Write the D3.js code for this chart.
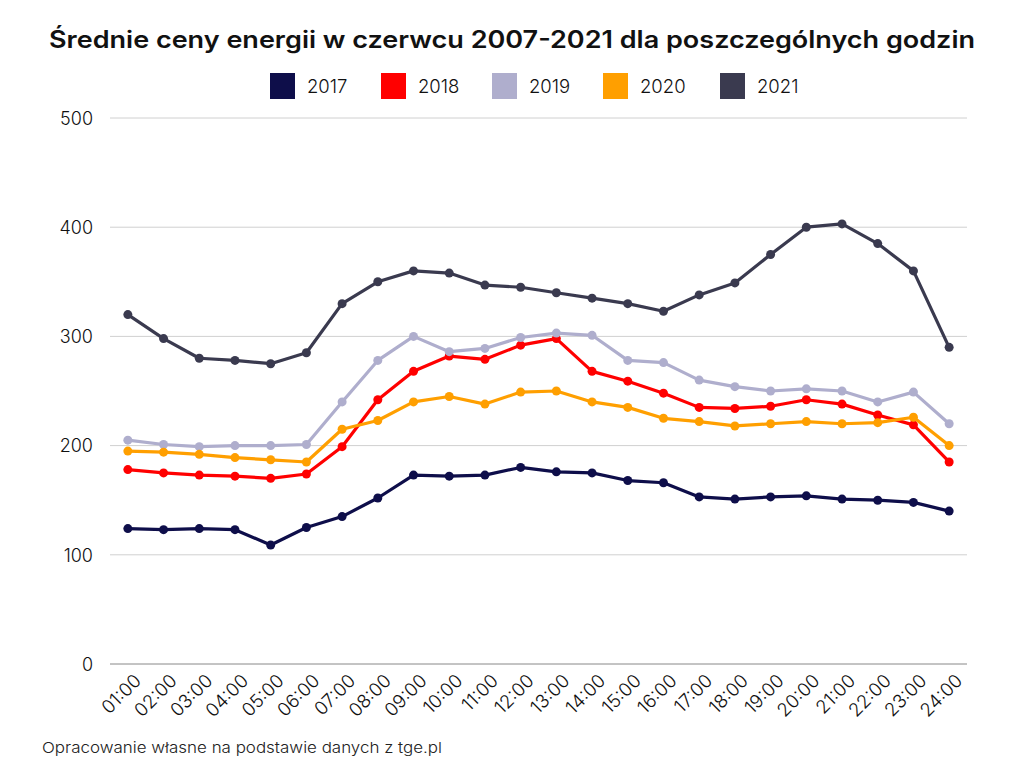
<!DOCTYPE html>
<html><head><meta charset="utf-8">
<script src="https://cdn.jsdelivr.net/npm/d3@7"></script>
<style>body{margin:0;background:#fff}svg{display:block}</style>
</head><body>
<svg id="c" width="1024" height="768"></svg>
<script>
const hours = ["01:00","02:00","03:00","04:00","05:00","06:00","07:00","08:00","09:00","10:00","11:00","12:00","13:00","14:00","15:00","16:00","17:00","18:00","19:00","20:00","21:00","22:00","23:00","24:00"];
const years = ["2017","2018","2019","2020","2021"];
const colors = ["#0e0e4a","#ff0000","#afaecd","#ff9f00","#3a3a4f"];
const v2017 = [124,123,124,123,109,125,135,152,173,172,173,180,176,175,168,166,153,151,153,154,151,150,148,140];
const v2018 = [178,175,173,172,170,174,199,242,268,282,279,292,298,268,259,248,235,234,236,242,238,228,219,185];
const v2019 = [205,201,199,200,200,201,240,278,300,286,289,299,303,301,278,276,260,254,250,252,250,240,249,220];
const v2020 = [195,194,192,189,187,185,215,223,240,245,238,249,250,240,235,225,222,218,220,222,220,221,226,200];
const v2021 = [320,298,280,278,275,285,330,350,360,358,347,345,340,335,330,323,338,349,375,400,403,385,360,290];
const yTicks = [0,100,200,300,400,500];
const title = "Średnie ceny energii w czerwcu 2007-2021 dla poszczególnych godzin";
const source = "Opracowanie własne na podstawie danych z tge.pl";
const series = [v2017,v2018,v2019,v2020,v2021];

const svg = d3.select("#c");
const font = "Inter, 'Noto Sans', sans-serif";
const x = d3.scalePoint().domain(hours).range([110,967]).padding(0.5);
const y = d3.scaleLinear().domain([0,500]).range([664,118]);

svg.append("text").attr("x",512).attr("y",48).attr("text-anchor","middle")
  .attr("font-family",font).attr("font-weight",600).attr("font-size",24)
  .attr("textLength",926).attr("lengthAdjust","spacingAndGlyphs")
  .attr("fill","#111").text(title);

// legend
const legX = [270,381,492,603,720];
const lg = svg.append("g");
years.forEach((yr,i)=>{
  lg.append("rect").attr("x",legX[i]).attr("y",73).attr("width",25).attr("height",26).attr("fill",colors[i]);
  lg.append("text").attr("x",legX[i]+37).attr("y",93).attr("font-family",font).attr("font-size",18.5)
    .attr("font-weight",300).attr("fill","#111").text(yr);
});

// grid
const grid = svg.append("g");
yTicks.forEach(t=>{
  grid.append("line").attr("x1",110).attr("x2",967).attr("y1",y(t)).attr("y2",y(t))
    .attr("stroke", t===0?"#888":"#d0d0d0").attr("stroke-width",1);
});
const yAxis = d3.axisLeft(y).tickValues(yTicks).tickSize(0).tickPadding(0);
const ya = svg.append("g").attr("transform","translate(93,0)").call(yAxis);
ya.select(".domain").remove();
ya.selectAll("text").attr("font-family",font).attr("font-size",18).attr("font-weight",300).attr("fill","#111").attr("dy","0.35em");

// x axis
const xAxis = d3.axisBottom(x).tickSize(0).tickPadding(0);
const xa = svg.append("g").attr("transform","translate(0,664)").call(xAxis);
xa.select(".domain").remove();
xa.selectAll("text").attr("font-family",font).attr("font-size",18.5).attr("font-weight",300).attr("fill","#111")
  .attr("text-anchor","end").attr("dy",null).attr("y",0)
  .attr("transform","translate(14,18) rotate(-45)");

// lines
const line = d3.line().x((d,i)=>x(hours[i])).y(d=>y(d));
series.forEach((s,i)=>{
  const g = svg.append("g");
  g.append("path").datum(s).attr("d",line).attr("fill","none").attr("stroke",colors[i])
    .attr("stroke-width",3.2).attr("stroke-linejoin","round");
  g.selectAll("circle").data(s).enter().append("circle")
    .attr("cx",(d,j)=>x(hours[j])).attr("cy",d=>y(d)).attr("r",4.5).attr("fill",colors[i]);
});

svg.append("text").attr("x",42).attr("y",753).attr("font-family",font).attr("font-size",15).attr("font-weight",300)
  .attr("textLength",400).attr("lengthAdjust","spacingAndGlyphs")
  .attr("fill","#222").text(source);
</script>
</body></html>
